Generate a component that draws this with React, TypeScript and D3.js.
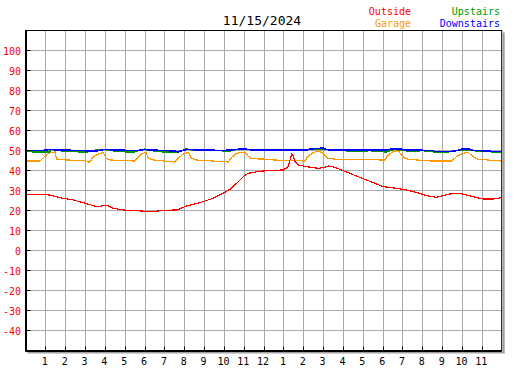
import * as d3 from "d3";

// hours since midnight, temperature in F
const outsideData: [number, number][] = [
    [0, 27.75], [0.48, 28.1], [1.23, 27.75], [1.4, 27.25], [1.9, 26.1], [2.41, 25.25], [2.91, 23.9],
    [3.59, 21.9], [4.09, 22.6], [4.42, 21.1], [4.93, 20.25], [5.6, 19.9], [6.44, 19.4], [6.94, 20.1],
    [7.62, 20.25], [8.12, 22.25], [8.79, 23.9], [9.46, 26.1], [9.96, 28.6], [10.3, 30.6], [10.64, 33.6],
    [10.97, 36.9], [11.22, 38.6], [11.81, 39.6], [12.32, 40.0], [12.99, 40.25], [13.24, 41.9], [13.41, 48.1],
    [13.49, 47.25], [13.58, 44.4], [13.74, 42.75], [14.17, 41.9], [14.75, 41.1], [15.0, 41.4], [15.25, 42.25],
    [15.59, 41.6], [16.01, 39.9], [16.35, 38.6], [16.77, 36.9], [17.19, 35.25], [17.61, 33.6], [18.03, 31.9],
    [18.7, 31.1], [19.2, 30.25], [19.54, 29.4], [19.87, 28.6], [20.21, 27.4], [20.72, 26.6], [21.05, 27.4],
    [21.39, 28.25], [21.89, 28.6], [22.23, 27.75], [22.56, 26.9], [23.06, 25.75], [23.57, 25.75], [24, 26.4],
];

const garageData: [number, number][] = [
    [0, 44.75], [0.73, 44.75], [0.98, 47.25], [1.23, 48.9], [1.49, 49.25], [1.57, 45.75], [2.08, 45.25],
    [3.0, 44.9], [3.16, 44.25], [3.25, 44.25], [3.42, 46.9], [3.67, 48.25], [3.92, 49.1], [4.06, 46.1],
    [4.26, 45.25], [5.51, 44.75], [5.68, 46.6], [5.85, 48.25], [6.07, 49.1], [6.19, 46.1], [6.44, 45.25],
    [7.53, 44.25], [7.7, 46.1], [7.95, 48.25], [8.2, 49.1], [8.37, 46.1], [8.62, 45.25], [10.22, 44.25],
    [10.39, 46.6], [10.64, 48.6], [11.06, 49.25], [11.22, 47.25], [11.4, 45.9], [12.32, 45.6], [12.5, 45.25],
    [14.08, 44.75], [14.25, 47.25], [14.5, 48.9], [14.75, 49.9], [15.0, 48.6], [15.25, 46.1], [15.68, 45.6],
    [18.11, 45.25], [18.28, 47.75], [18.53, 49.4], [18.78, 49.9], [18.95, 47.75], [19.12, 46.1], [19.28, 45.6],
    [20.46, 44.75], [21.47, 44.75], [21.72, 46.9], [22.06, 48.6], [22.31, 49.1], [22.56, 46.9], [22.81, 45.6],
    [24, 44.75],
];

const upstairsData: [number, number][] = [
    [0, 50.0], [0.4, 49.3], [1.2, 49.3], [1.3, 50.6], [1.6, 50.0], [2.8, 49.3], [3.1, 49.3], [3.3, 49.8],
    [3.9, 50.6], [4.3, 50.0], [5.1, 49.3], [5.5, 49.3], [5.7, 50.0], [6.0, 50.6], [6.3, 50.0], [7.0, 49.3],
    [7.6, 49.2], [7.9, 50.0], [8.1, 50.7], [8.5, 50.2], [10.3, 49.8], [10.7, 50.6], [11.3, 50.6], [11.5, 50.0],
    [12.4, 50.2], [13.2, 50.5], [13.5, 50.0], [14.2, 50.6], [15.2, 50.6], [15.4, 50.0], [16.9, 49.8],
    [17.1, 49.4], [17.3, 50.0], [18.2, 49.3], [18.6, 50.6], [19.0, 50.0], [19.6, 49.6], [20.0, 50.0],
    [20.7, 49.2], [21.2, 49.2], [21.6, 49.8], [22.2, 50.3], [22.5, 50.0], [23.6, 49.3], [24, 49.3],
];

const downstairsData: [number, number][] = [
    [0, 50.0], [0.8, 49.9], [1.3, 50.6], [1.6, 50.2], [2.9, 50.0], [3.2, 49.6], [3.6, 49.8], [4.0, 50.6],
    [4.4, 50.3], [5.6, 49.9], [6.0, 50.5], [6.4, 50.2], [7.5, 49.8], [7.7, 49.2], [7.9, 50.0], [8.2, 50.6],
    [8.6, 50.3], [10.0, 50.0], [10.6, 50.5], [11.0, 50.9], [11.3, 50.4], [12.0, 50.2], [14.2, 50.3],
    [14.4, 50.8], [15.0, 51.2], [15.2, 50.4], [17.0, 50.2], [18.2, 50.3], [18.5, 50.8], [18.9, 50.8],
    [19.1, 50.3], [20.5, 50.0], [20.6, 49.6], [21.4, 49.5], [21.8, 50.0], [22.0, 50.8], [22.4, 50.6],
    [22.6, 50.0], [23.3, 49.8], [23.6, 49.4], [24, 49.5],
];

const hourTicks = d3.range(1, 24);
const hourLabels = ["1", "2", "3", "4", "5", "6", "7", "8", "9", "10", "11", "12",
    "1", "2", "3", "4", "5", "6", "7", "8", "9", "10", "11"];
const tempTicks = [-40, -30, -20, -10, 0, 10, 20, 30, 40, 50, 60, 70, 80, 90, 100];

const title = "11/15/2024";

const mono = "'DejaVu Sans Mono', monospace";

export default function App() {
    const x = d3.scaleLinear().domain([0, 24]).range([25.5, 501.7]);
    const y = d3.scaleLinear().domain([-50, 110]).range([350.5, 30.5]);
    const line = d3.line<[number, number]>()
        .x(d => x(d[0]))
        .y(d => y(d[1]));

    const left = x(0), right = x(24), top = y(110), bottom = y(-50);

    const series = [
        {data: garageData, color: "#ff9900", width: 1.2},
        {data: outsideData, color: "#ff0000", width: 1.2},
        {data: upstairsData, color: "#009900", width: 1.6},
        {data: downstairsData, color: "#0000ff", width: 1.6},
    ];

    return <div style={{position: "fixed", left: 0, top: 0}}>
        <svg width={527} height={370} style={{display: "block", background: "#fff"}}>
            {/* grid */}
            {hourTicks.map(h => (
                <line key={"v" + h} x1={Math.round(x(h)) + 0.5} x2={Math.round(x(h)) + 0.5} y1={top} y2={bottom}
                      stroke="#a8a8a8" strokeWidth={1}/>
            ))}
            {tempTicks.map(t => (
                <line key={"h" + t} x1={left} x2={right} y1={y(t)} y2={y(t)} stroke="#a8a8a8" strokeWidth={1}/>
            ))}

            {/* shadow */}
            <line x1={right + 2} x2={right + 2} y1={top + 2} y2={bottom + 2} stroke="#a0a0a0" strokeWidth={2}/>
            <line x1={left + 2} x2={right + 3} y1={bottom + 2} y2={bottom + 2} stroke="#a0a0a0" strokeWidth={2}/>

            {/* data */}
            <g clipPath="url(#plotClip)">
                {series.map((s, i) => (
                    <path key={i} d={line(s.data) ?? ""} fill="none" stroke={s.color} strokeWidth={s.width}
                          shapeRendering="crispEdges"/>
                ))}
            </g>
            <defs>
                <clipPath id="plotClip">
                    <rect x={left} y={top} width={right - left} height={bottom - top}/>
                </clipPath>
            </defs>

            {/* frame */}
            <rect x={left} y={top} width={right - left} height={bottom - top} fill="none" stroke="#000" strokeWidth={1}/>
            <line x1={left + 0.5} x2={left + 0.5} y1={top} y2={bottom + 1} stroke="#000" strokeWidth={2}/>
            <line x1={left} x2={right} y1={bottom + 0.5} y2={bottom + 0.5} stroke="#000" strokeWidth={2}/>

            {/* y ticks */}
            {tempTicks.map(t => (
                <g key={"yt" + t}>
                    <line x1={left} x2={left + 5} y1={y(t)} y2={y(t)} stroke="#000" strokeWidth={1}/>
                    <text x={21} y={y(t) + 4} textAnchor="end" fontFamily={mono} fontSize={10} fill="#ff0000">{t}</text>
                </g>
            ))}

            {/* x ticks */}
            {hourTicks.map((h, i) => (
                <g key={"xt" + h}>
                    <line x1={Math.round(x(h)) + 0.5} x2={Math.round(x(h)) + 0.5} y1={bottom - 4} y2={bottom}
                          stroke="#000" strokeWidth={1}/>
                    <text x={x(h) - 0.5} y={365} textAnchor="middle" fontFamily={mono} fontSize={10}
                          fill="#000">{hourLabels[i]}</text>
                </g>
            ))}

            {/* title + legend */}
            <text x={262} y={25} textAnchor="middle" fontFamily={mono} fontSize={13} fill="#000">{title}</text>
            <text x={411} y={15} textAnchor="end" fontFamily={mono} fontSize={10} fill="#ff0000">Outside</text>
            <text x={411} y={27} textAnchor="end" fontFamily={mono} fontSize={10} fill="#ff9900">Garage</text>
            <text x={500} y={15} textAnchor="end" fontFamily={mono} fontSize={10} fill="#009900">Upstairs</text>
            <text x={500} y={27} textAnchor="end" fontFamily={mono} fontSize={10} fill="#0000ff">Downstairs</text>
        </svg>
    </div>;
}
